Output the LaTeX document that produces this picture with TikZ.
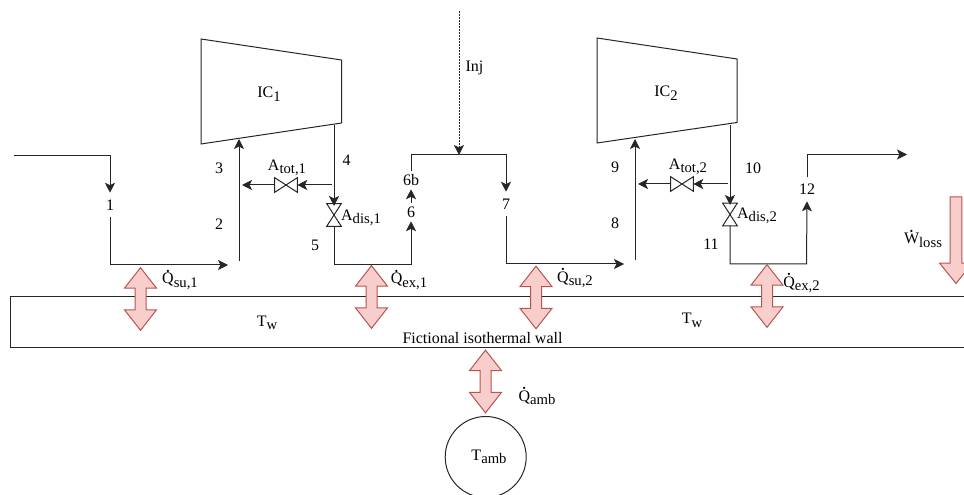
\documentclass[tikz,border=0pt]{standalone}
\usepackage{fontspec}
\setmainfont{Liberation Serif}
\usetikzlibrary{arrows.meta,shapes.arrows}
\definecolor{heatfill}{HTML}{F8CECC}
\definecolor{heatline}{HTML}{B85450}
\newcommand{\lowsub}[1]{\raisebox{-0.2em}{\fontsize{11}{13}\selectfont #1}}
\newcommand{\flowdot}[1]{\ooalign{\hfil\raisebox{0.62em}{\scriptsize\textbullet}\hfil\cr #1\cr}}
\tikzset{
  every node/.style={font=\fontsize{12}{14}\selectfont, text=black},
  pipe/.style={draw=black!85, line width=0.75pt},
  flow/.style={pipe, -{Stealth[length=7.5pt,width=7.5pt,inset=1.8pt]}},
  statept/.style={inner sep=0pt, minimum height=18pt},
  statetight/.style={inner sep=0pt, minimum height=13.5pt},
  txt/.style={inner sep=0pt},
  basetxt/.style={inner sep=0pt, anchor=base},
  valve/.style={inner sep=0pt},
  heat/.style={double arrow, rotate=90, draw=heatline, fill=heatfill, line width=0.75pt, inner xsep=0pt, inner ysep=3.75pt,
    minimum height=47pt, double arrow head extend=7.9pt, double arrow tip angle=76},
  work/.style={single arrow, rotate=-90, draw=heatline, fill=heatfill, line width=0.75pt, inner xsep=0pt, inner ysep=4pt,
    minimum height=65pt, single arrow head extend=8pt, single arrow tip angle=78},
}
\begin{document}
\begin{tikzpicture}[x=0.75pt,y=-0.75pt]
\useasboundingbox (0,0) rectangle (964,495);
% wall
\draw [pipe] (964,296.5) -- (10,296.5) -- (10,347.5) -- (964,347.5);
\node [txt] (wallname) at (482.5,338) {Fictional isothermal wall};
\node [basetxt] (tw1) at (267,326.7) {T\lowsub{w}};
\node [basetxt] (tw2) at (692,324) {T\lowsub{w}};
% compressors
\draw [pipe] (201,39) -- (341.5,60) -- (341.5,123) -- (201,144) -- cycle;
\draw [pipe] (597,38) -- (737,59) -- (737,122.5) -- (597,143) -- cycle;
\node [basetxt] (ic1) at (269,98) {IC\lowsub{1}};
\node [basetxt] (ic2) at (666,97) {IC\lowsub{2}};
% valves
\node [valve, minimum width=10.5pt, minimum height=16.5pt] (vdis1) at (334,215) {};
\node [valve, minimum width=10.5pt, minimum height=16.5pt] (vdis2) at (730,214.5) {};
\node [valve, minimum width=16.5pt, minimum height=10.5pt] (vtot1) at (286,185) {};
\node [valve, minimum width=16.5pt, minimum height=10.5pt] (vtot2) at (682,184) {};
\foreach \v in {vdis1,vdis2} {
  \draw [pipe] (\v.north west) -- (\v.north east) -- (\v.south west) -- (\v.south east) -- cycle;
}
\foreach \v in {vtot1,vtot2} {
  \draw [pipe] (\v.north west) -- (\v.south west) -- (\v.north east) -- (\v.south east) -- cycle;
}
% state points on the line
\node [statept] (p1) at (110,205) {1};
\node [statetight] (p6) at (411,212) {6};
\node [statetight] (p6b) at (411,180) {6b};
\node [statept] (p7) at (506,204) {7};
\node [statept] (p12) at (807,189) {12};
% state points beside the line
\node [txt] (p2) at (219,224) {2};
\node [txt] (p3) at (219,168) {3};
\node [txt] (p4) at (346.5,160) {4};
\node [txt] (p5) at (315,245) {5};
\node [txt] (p8) at (615,223) {8};
\node [txt] (p9) at (615,167) {9};
\node [txt] (p10) at (753,168) {10};
\node [txt] (p11) at (711,244) {11};
\node [txt] (inj) at (474.5,67.5) {Inj};
% line ends
\coordinate (inlet) at (14,156);
\coordinate (corner1) at (110,265);
\coordinate (end1) at (228,265);
\coordinate (start2) at (239,261);
\coordinate (icin1) at (239,139);
\coordinate (icout1) at (334,125);
\coordinate (valve1) at (334,206);
\coordinate (tee1) at (332,185);
\coordinate (join1) at (242,185);
\coordinate (corner6) at (411,265);
\coordinate (top6) at (411,155);
\coordinate (injtop) at (459,11);
\coordinate (injend) at (459,155);
\coordinate (corner7) at (506,264);
\coordinate (end7) at (624,264);
\coordinate (start8) at (635,260);
\coordinate (icin2) at (635,139);
\coordinate (icout2) at (730,125);
\coordinate (valve2) at (730,205);
\coordinate (tee2) at (728,184);
\coordinate (join2) at (638,184);
\coordinate (corner12) at (806.5,264);
\coordinate (outlet) at (907,154.5);
% connectors
\draw [flow] (inlet) -| (p1.north);
\draw [flow] (p1.south) |- (end1);
\draw [flow] (start2) -- (icin1);
\draw [flow] (icout1) -- (valve1);
\draw [flow] (tee1) -- (vtot1.east);
\draw [flow] (vtot1.west) -- (join1);
\draw [flow] (vdis1.south) |- (corner6) -- (p6.south);
\draw [flow] (p6.north) -- (p6b.south);
\draw [flow] (p6b.north) |- (top6) -| (p7.north);
\draw [flow, dash pattern=on 1.5pt off 0.75pt] (injtop) -- (injend);
\draw [flow] (p7.south) |- (end7);
\draw [flow] (start8) -- (icin2);
\draw [flow] (icout2) -- (valve2);
\draw [flow] (tee2) -- (vtot2.east);
\draw [flow] (vtot2.west) -- (join2);
\draw [flow] (vdis2.south) |- (corner12) -- (p12.south);
\draw [flow] (p12.north) |- (outlet);
% heat flows
\node [heat] (qsu1) at (140.5,299) {};
\node [heat] (qex1) at (371.5,297) {};
\node [heat] (qsu2) at (536,297.5) {};
\node [heat] (qex2) at (767,296) {};
\node [heat] (qamb) at (485.5,381.5) {};
\node [work] (wloss) at (956,236.5) {};
\node [basetxt] (lsu1) at (180,284) {\flowdot{Q}\lowsub{su,1}};
\node [basetxt] (lex1) at (409,284) {\flowdot{Q}\lowsub{ex,1}};
\node [basetxt] (lsu2) at (575,282.7) {\flowdot{Q}\lowsub{su,2}};
\node [basetxt] (lex2) at (801.5,287.3) {\flowdot{Q}\lowsub{ex,2}};
\node [basetxt] (lamb) at (537,401) {\flowdot{Q}\lowsub{amb}};
\node [basetxt] (lloss) at (923,244) {\flowdot{W}\lowsub{loss}};
\node [basetxt] (ltot1) at (287,170.7) {A\lowsub{tot,1}};
\node [basetxt] (ltot2) at (688,169.3) {A\lowsub{tot,2}};
\node [basetxt] (ldis1) at (361,220.7) {A\lowsub{dis,1}};
\node [basetxt] (ldis2) at (757,218.3) {A\lowsub{dis,2}};
% ambient
\node [draw=black!85, line width=0.75pt, circle, minimum size=60.75pt, inner sep=0pt] (amb) at (485.7,457) {};
\node [basetxt] (tamb) at (489,460) {T\lowsub{amb}};
\end{tikzpicture}
\end{document}
